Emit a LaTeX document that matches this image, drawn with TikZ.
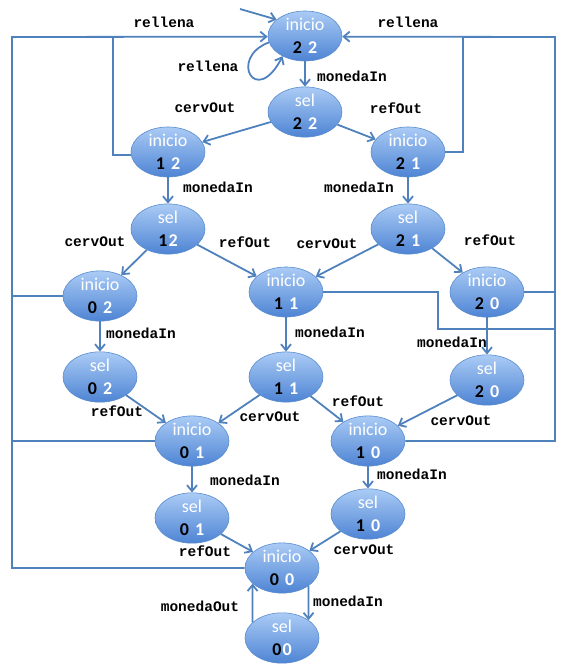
\documentclass[tikz,border=0pt]{standalone}
\usepackage{fontspec}
\setmainfont{Carlito}
\newfontfamily\labfont{Liberation Mono}
\usetikzlibrary{arrows.meta,shapes.geometric}
\definecolor{linkc}{RGB}{79,129,189}
\definecolor{topc}{RGB}{170,203,245}
\definecolor{botc}{RGB}{78,132,212}
\definecolor{bordc}{RGB}{90,140,205}
\newcommand\sttxt[4][6pt]{\textcolor{white}{#2}\\[5pt]\textbf{#3}\hspace{#1}\textcolor{white}{\textbf{#4}}}
\begin{document}
\begin{tikzpicture}[x=1pt,y=-1pt,
  st/.style={ellipse,draw=bordc,line width=0.6pt,top color=topc,bottom color=botc,
    minimum width=74pt,minimum height=46pt,inner sep=0pt,align=center,
    font=\fontsize{18}{18}\selectfont},
  link/.style={draw=linkc,line width=1.8pt},
  arr/.style={link,-{Straight Barb[length=6pt,width=10pt]}},
  lbl/.style={font=\labfont\bfseries\fontsize{14.5}{16}\selectfont,inner sep=0pt}]
\useasboundingbox (0,0) rectangle (567,667);
% states
\node[st] (i22) at (305,36) {\sttxt{inicio}{2}{2}};
\node[st] (s22) at (305,112) {\sttxt{sel}{2}{2}};
\node[st] (i12) at (168,152) {\sttxt{inicio}{1}{2}};
\node[st] (i21) at (408,152) {\sttxt{inicio}{2}{1}};
\node[st] (s12) at (168,229) {\sttxt[1pt]{sel}{1}{2}};
\node[st] (s21) at (408,229) {\sttxt{sel}{2}{1}};
\node[st] (i02) at (100,296) {\sttxt{inicio}{0}{2}};
\node[st] (i11) at (286,292) {\sttxt{inicio}{1}{1}};
\node[st] (i20) at (487,292) {\sttxt{inicio}{2}{0}};
\node[st] (s02) at (100,377) {\sttxt{sel}{0}{2}};
\node[st] (s11) at (286,377) {\sttxt{sel}{1}{1}};
\node[st] (s20) at (487,380) {\sttxt{sel}{2}{0}};
\node[st] (i01) at (192,441) {\sttxt{inicio}{0}{1}};
\node[st] (i10) at (368,441) {\sttxt{inicio}{1}{0}};
\node[st] (s01) at (192,518) {\sttxt{sel}{0}{1}};
\node[st] (s10) at (368,514) {\sttxt{sel}{1}{0}};
\node[st] (i00) at (282,568) {\sttxt{inicio}{0}{0}};
\node[st] (s00) at (282,638) {\sttxt[1pt]{sel}{0}{0}};
% helper coordinates
\coordinate (start) at (240,9);
\coordinate (ltop) at (12,37);
\coordinate (lin) at (113,37);
\coordinate (rtop) at (555,37);
\coordinate (rin) at (463,37);
\coordinate (k1) at (438,329);
% rellena returns
\draw[arr] (i00.west) -| (ltop) -- (i22.181);
\draw[link] (i01.west) -- (i01.west -| ltop);
\draw[link] (i02.west) -- (i02.west -| ltop);
\draw[link] (i12.185) -| (lin);
\draw[arr] (i10.east) -| (rtop) -- (i22.-1);
\draw[link] (i20.east) -- (i20.east -| rtop);
\draw[link] (i11.east) -| (k1) -- (k1 -| rtop);
\draw[link] (i21.east) -| (rin);
% initial and self loop
\draw[arr] (start) -- (i22.150);
\draw[arr] (i22.190) .. controls (228,58) and (256,108) .. (i22.222);
% transitions
\draw[arr] (i22) -- (s22);
\draw[arr] (s22) -- (i12);
\draw[arr] (s22) -- (i21);
\draw[arr] (i12) -- (s12);
\draw[arr] (i21) -- (s21);
\draw[arr] (s12) -- (i02);
\draw[arr] (s12) -- (i11);
\draw[arr] (s21) -- (i11);
\draw[arr] (s21) -- (i20);
\draw[arr] (i02) -- (s02);
\draw[arr] (i11) -- (s11);
\draw[arr] (i20) -- (s20);
\draw[arr] (s02) -- (i01);
\draw[arr] (s11) -- (i01);
\draw[arr] (s11) -- (i10);
\draw[arr] (s20) -- (i10);
\draw[arr] (i01) -- (s01);
\draw[arr] (i10) -- (s10);
\draw[arr] (s01) -- (i00);
\draw[arr] (s10) -- (i00);
\draw[arr] (i00.-34) -- (s00.34);
\draw[arr] (s00.152) -- (i00.208);
% labels
\node[lbl] (r1) at (164,22) {rellena};
\node[lbl] (r2) at (408,22) {rellena};
\node[lbl] (r3) at (208,66) {rellena};
\node[lbl] (m1) at (352,76) {monedaIn};
\node[lbl] (c1) at (205,108) {cervOut};
\node[lbl] (f1) at (396,108) {refOut};
\node[lbl] (m2) at (218,187) {monedaIn};
\node[lbl] (m3) at (359,187) {monedaIn};
\node[lbl] (c2) at (95,242) {cervOut};
\node[lbl] (f2) at (245,242) {refOut};
\node[lbl] (c3) at (327,244) {cervOut};
\node[lbl] (f3) at (490,240) {refOut};
\node[lbl] (m4) at (141,333) {monedaIn};
\node[lbl] (m5) at (330,332) {monedaIn};
\node[lbl] (m6) at (452,342) {monedaIn};
\node[lbl] (f4) at (117,411) {refOut};
\node[lbl] (c4) at (270,417) {cervOut};
\node[lbl] (f5) at (358,401) {refOut};
\node[lbl] (c5) at (461,421) {cervOut};
\node[lbl] (m7) at (245,480) {monedaIn};
\node[lbl] (m8) at (412,474) {monedaIn};
\node[lbl] (f6) at (205,551) {refOut};
\node[lbl] (c6) at (364,550) {cervOut};
\node[lbl] (m9) at (348,601) {monedaIn};
\node[lbl] (mo) at (200,606) {monedaOut};
\end{tikzpicture}
\end{document}
